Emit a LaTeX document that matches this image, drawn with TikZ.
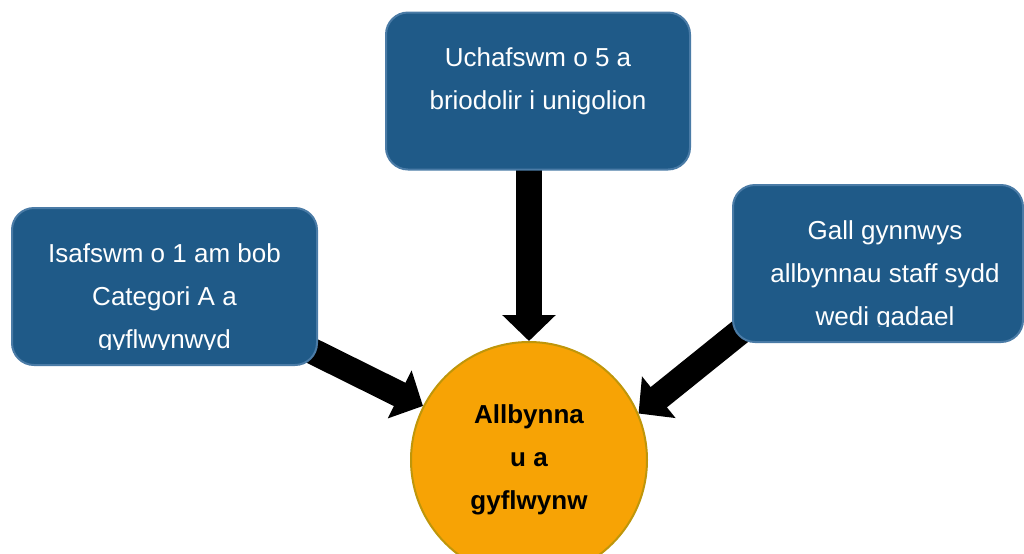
\documentclass[tikz,border=0pt]{standalone}
\usepackage{fontspec}
\setmainfont{Liberation Sans}
\usetikzlibrary{arrows.meta, positioning, backgrounds}
\definecolor{boxblue}{HTML}{1F5A88}
\definecolor{boxedge}{HTML}{4A7BA6}
\definecolor{outorange}{HTML}{F7A305}
\definecolor{outedge}{HTML}{BF960A}
\tikzstyle{block} = [rectangle, draw=boxedge, fill=boxblue, line width=1pt, rounded corners=11pt, minimum height=78.5pt]
\tikzstyle{blocktext} = [anchor=north, inner sep=0pt, align=center, text=white, font=\fontsize{13}{21.5}\selectfont]
\tikzstyle{outcome} = [circle, draw=outedge, fill=outorange, line width=1pt, minimum size=118pt, inner sep=0pt, align=center, font=\bfseries\fontsize{13}{21.5}\selectfont]
\tikzstyle{fat} = [line width=13pt, -{Triangle[width=26pt, length=13pt]}]

\begin{document}
\begin{tikzpicture}[x=0.5pt, y=-0.5pt]
		\useasboundingbox (0,0) rectangle (1024,553);

		\node [block, minimum width=152pt] (maximum) at (538,91) {};
		\node [blocktext] (maximumtext) at ([yshift=-18pt]maximum.north) {Uchafswm o 5 a\\briodolir i unigolion};

		\node [block, minimum width=152.5pt] (minimum) at (164.5,286.5) {};
		\begin{scope}
			\clip ([yshift=8.5pt]minimum.south west) rectangle (minimum.north east);
			\node [blocktext] (minimumtext) at ([yshift=-18pt]minimum.north) {Isafswm o 1 am bob\\Categori A a\\gyflwynwyd};
		\end{scope}

		\node [block, minimum width=145pt] (leavers) at (878,263.5) {};
		\begin{scope}
			\clip ([yshift=8.5pt]leavers.south west) rectangle (leavers.north east);
			\node [blocktext] (leaverstext) at ([yshift=-18pt, xshift=3.5pt]leavers.north) {Gall gynnwys\\allbynnau staff sydd\\wedi gadael};
		\end{scope}

		\node [outcome] (outputs) at (529,460) {Allbynna\\u a\\gyflwynw};

		% arrows go behind the boxes
		\begin{scope}[on background layer]
			\draw[fat] (maximum.center -| outputs.north) -- (outputs.north);
			\draw[fat] ([shift={(-27,-25.5)}]minimum.south east) -- (outputs.153);
			\draw[fat] ([shift={(27,-26.5)}]leavers.south west) -- (outputs.23);
		\end{scope}
	\end{tikzpicture}
\end{document}
